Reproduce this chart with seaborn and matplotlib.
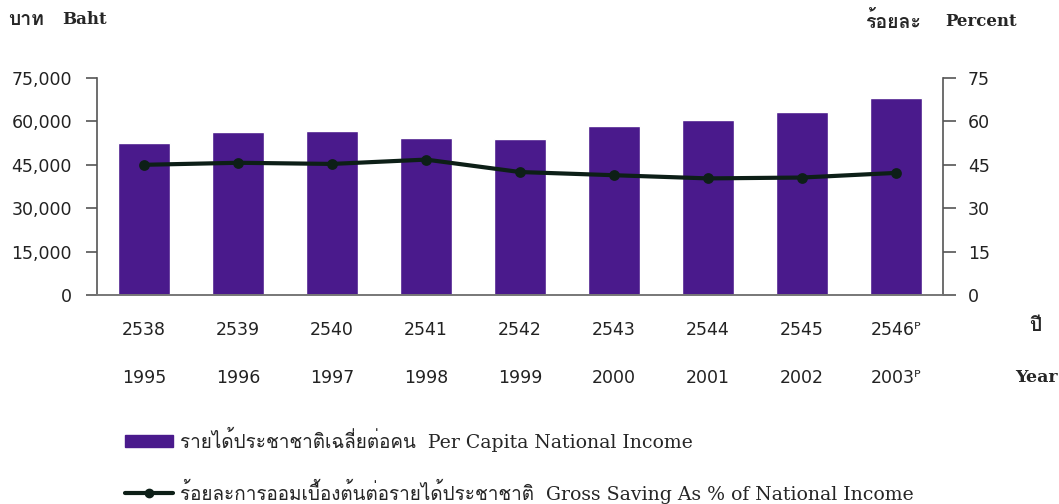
import matplotlib
matplotlib.use("Agg")
import matplotlib.pyplot as plt
import seaborn as sns
import pandas as pd
from matplotlib import font_manager
from matplotlib.ft2font import FT2Font
from matplotlib.ticker import FuncFormatter
from matplotlib.patches import Patch
from matplotlib.lines import Line2D

# data
thai_years = ["2538", "2539", "2540", "2541", "2542", "2543", "2544", "2545", "2546ᴾ"]
ad_years = ["1995", "1996", "1997", "1998", "1999", "2000", "2001", "2002", "2003ᴾ"]
income = [52600, 56400, 56800, 54200, 53800, 58500, 60500, 63400, 68000]   # baht per capita
saving = [45.0, 45.7, 45.3, 46.8, 42.5, 41.4, 40.3, 40.6, 42.2]            # % of national income

bar_color = "#4a1a8c"
line_color = "#0d1f17"


def find_thai_font():
    # pick any installed family that actually has Thai glyphs
    for f in font_manager.fontManager.ttflist:
        try:
            if 0x0E01 in FT2Font(f.fname).get_charmap():
                return f.name
        except Exception:
            pass
    return None


sns.set_style("white")
thai = find_thai_font()
thai_fams = ([thai] if thai else []) + ["DejaVu Sans"]
serif_fams = ["DejaVu Serif"] + ([thai] if thai else [])
plt.rcParams["font.family"] = ["DejaVu Sans"]

labels = [f"{a}\n{b}" for a, b in zip(thai_years, ad_years)]
df = pd.DataFrame({"year": labels, "income": income, "saving": saving})

fig = plt.figure(figsize=(10.59, 5.04), dpi=100)
ax = fig.add_axes([97 / 1059, 1 - 295 / 504, (943 - 97) / 1059, (295 - 78) / 504])

sns.barplot(data=df, x="year", y="income", color=bar_color, saturation=1,
            width=0.55, ax=ax)
ax.set_ylim(0, 75000)
ax.set_yticks(range(0, 75001, 15000))
ax.yaxis.set_major_formatter(FuncFormatter(lambda v, p: f"{v:,.0f}"))
ax.set_xlabel("")
ax.set_ylabel("")

ax2 = ax.twinx()
sns.pointplot(data=df, x="year", y="saving", color=line_color, markers="o",
              markersize=5.5, linewidth=3, ax=ax2)
ax2.set_ylim(0, 75)
ax2.set_yticks(range(0, 76, 15))
ax2.set_ylabel("")
ax.set_xlim(-0.5, 8.5)

for a in (ax, ax2):
    a.spines["top"].set_visible(False)
    for s in ("left", "right"):
        a.spines[s].set_color("#555555")
        a.spines[s].set_linewidth(1.2)
    a.spines["bottom"].set_color("#777777")
    a.spines["bottom"].set_linewidth(1.2)
ax.spines["right"].set_visible(False)
ax2.spines["left"].set_visible(False)

ax.tick_params(axis="y", length=8, width=1.2, color="#555555", pad=10,
               labelsize=12.5, labelcolor="#222222")
ax2.tick_params(axis="y", length=9, width=1.2, color="#555555", pad=9,
                labelsize=12.5, labelcolor="#222222")
ax.tick_params(axis="x", length=0, pad=18.5, labelsize=12.5, labelcolor="#222222")
for t in ax.get_xticklabels():
    t.set_linespacing(3.2)

# corner titles: Thai and English parts
fig.text(8 / 1059, 1 - 20 / 504, "บาท", fontsize=14, fontweight="bold",
         family=thai_fams, va="center", ha="left")
fig.text(62 / 1059, 1 - 20 / 504, "Baht", fontsize=12, fontweight="bold",
         family="DejaVu Serif", va="center", ha="left")
fig.text(865 / 1059, 1 - 22 / 504, "ร้อยละ", fontsize=14, fontweight="bold",
         family=thai_fams, va="center", ha="left")
fig.text(945 / 1059, 1 - 22 / 504, "Percent", fontsize=12, fontweight="bold",
         family="DejaVu Serif", va="center", ha="left")
fig.text(1035 / 1059, 1 - 326 / 504, "ปี", fontsize=14, fontweight="bold",
         family=thai_fams, va="center", ha="center")
fig.text(1036 / 1059, 1 - 377 / 504, "Year", fontsize=12.5, fontweight="bold",
         family="DejaVu Serif", va="center", ha="center")

handles = [
    Patch(facecolor=bar_color, edgecolor=bar_color),
    Line2D([], [], color=line_color, marker="o", markersize=6, linewidth=3),
]
names = [
    "รายได้ประชาชาติเฉลี่ยต่อคน  Per Capita National Income",
    "ร้อยละการออมเบื้องต้นต่อรายได้ประชาชาติ  Gross Saving As % of National Income",
]
leg = fig.legend(handles, names, loc="upper left",
                 bbox_to_anchor=(125 / 1059, 1 - 427 / 504),
                 frameon=False, borderpad=0, borderaxespad=0,
                 handlelength=2.55, handleheight=0.6, handletextpad=0.35,
                 labelspacing=1.4, prop={"family": serif_fams, "size": 13.6})

fig.savefig("out.png", dpi=100)
